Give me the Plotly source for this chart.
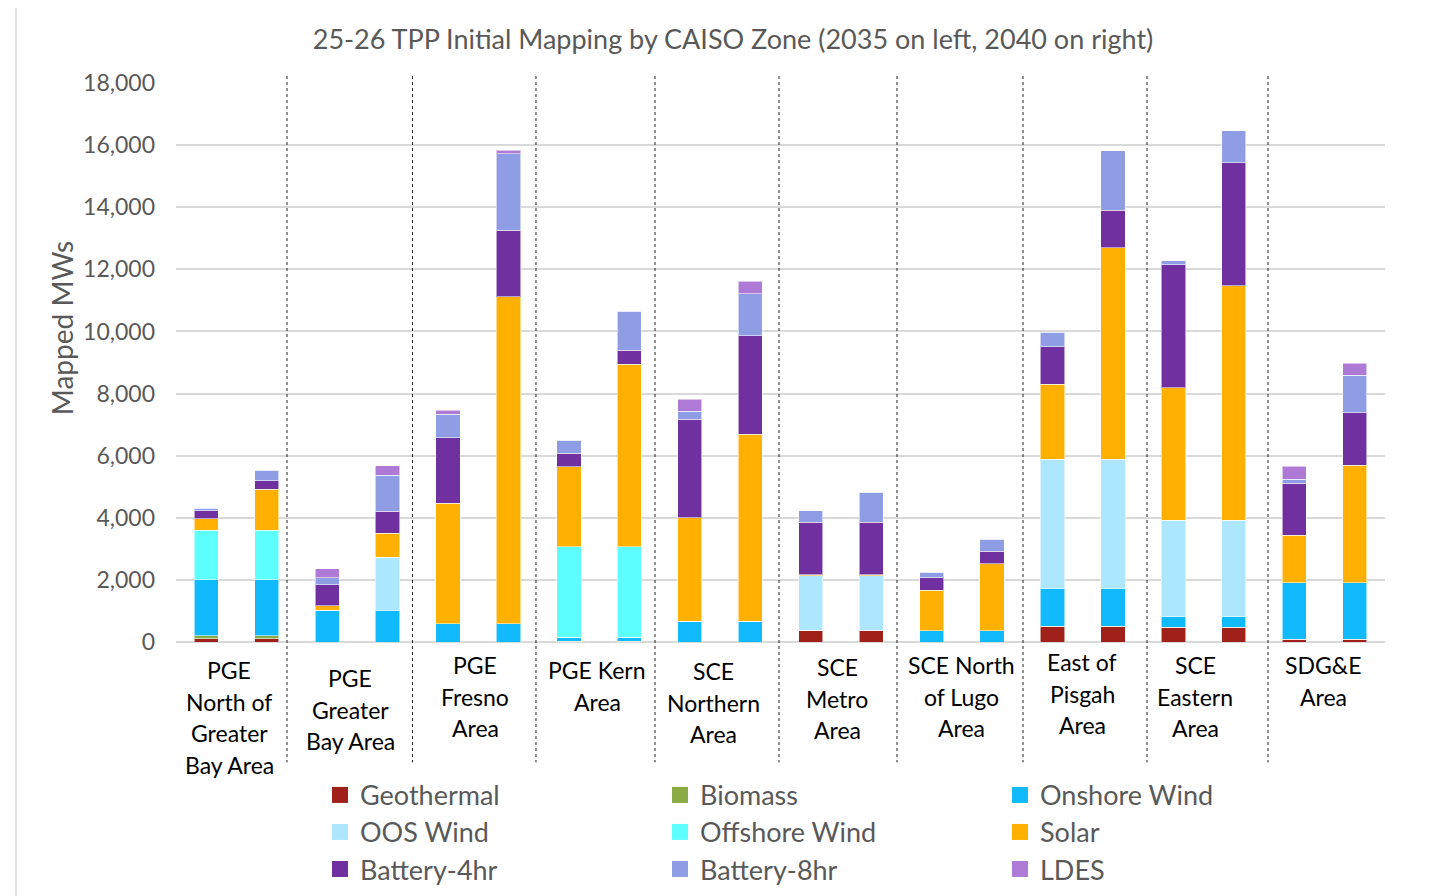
import plotly.graph_objects as go

# ---------------- data ----------------
zones = [
    "PGE<br>North of<br>Greater<br>Bay Area",
    "PGE<br>Greater<br>Bay Area",
    "PGE<br>Fresno<br>Area",
    "PGE Kern<br>Area",
    "SCE<br>Northern<br>Area",
    "SCE<br>Metro<br>Area",
    "SCE North<br>of Lugo<br>Area",
    "East of<br>Pisgah<br>Area",
    "SCE<br>Eastern<br>Area",
    "SDG&E<br>Area",
]
years = ["2035", "2040"]

# values per bar: zone1-2035, zone1-2040, zone2-2035, ...
geothermal = [100, 100, 0, 0, 0, 0, 0, 0, 0, 0, 380, 380, 0, 0, 500, 500, 480, 480, 90, 90]
biomass = [100, 100, 0, 0, 0, 0, 20, 20, 0, 0, 0, 0, 0, 0, 0, 0, 0, 0, 0, 0]
onshore_wind = [1800, 1800, 1020, 1020, 580, 580, 130, 130, 670, 670, 0, 0, 370, 370, 1230, 1230, 340, 340, 1810, 1810]
oos_wind = [0, 0, 0, 1710, 0, 0, 0, 0, 0, 0, 1750, 1750, 0, 0, 4160, 4160, 3100, 3100, 0, 0]
offshore_wind = [1600, 1600, 0, 0, 0, 0, 2925, 2925, 0, 0, 0, 0, 0, 0, 0, 0, 0, 0, 0, 0]
solar = [370, 1325, 140, 775, 3880, 10540, 2570, 5870, 3330, 6020, 40, 40, 1300, 2150, 2410, 6810, 4270, 7550, 1530, 3785]
battery_4hr = [260, 260, 690, 700, 2120, 2140, 440, 450, 3180, 3170, 1690, 1690, 400, 410, 1200, 1200, 3955, 3970, 1680, 1700]
battery_8hr = [75, 345, 215, 1160, 750, 2460, 410, 1250, 250, 1355, 365, 970, 170, 385, 475, 1925, 130, 1030, 130, 1205]
ldes = [0, 0, 300, 310, 140, 120, 0, 0, 390, 400, 0, 0, 0, 0, 0, 0, 0, 0, 420, 390]

series_names = ["Geothermal", "Biomass", "Onshore Wind", "OOS Wind", "Offshore Wind",
                "Solar", "Battery-4hr", "Battery-8hr", "LDES"]
series_values = [geothermal, biomass, onshore_wind, oos_wind, offshore_wind,
                 solar, battery_4hr, battery_8hr, ldes]

y_ticks = [0, 2000, 4000, 6000, 8000, 10000, 12000, 14000, 16000, 18000]

# ---------------- style ----------------
colors = ["#A0201A", "#8AAB45", "#10BAFD", "#ADE7FF", "#5EFFFF",
          "#FFB000", "#7030A0", "#8F9EE4", "#AE7AD6"]
FONT = "Lato"
GRAY = "#595959"

OFF = 8                      # page body margin
W, H = 1429 - OFF, 896 - OFF
L, R, T = 176 - OFF, 44, 83 - OFF
PLOT_BOTTOM_PAGE = 641.7
B = H - (PLOT_BOTTOM_PAGE - OFF)
plot_h = H - T - B
plot_w = W - L - R

def py(page_y):  # page pixel y -> paper y
    return (PLOT_BOTTOM_PAGE - page_y) / plot_h

def pxx(page_x):  # page pixel x -> paper x
    return (page_x - OFF - L) / plot_w

n_bars = len(zones) * len(years)
x_pos = list(range(n_bars))

fig = go.Figure()
for name, vals, col in zip(series_names, series_values, colors):
    fig.add_trace(go.Bar(
        x=x_pos, y=vals, name=name, showlegend=False,
        marker=dict(color=col, line=dict(color="rgba(255,255,255,0.55)", width=1)),
        width=0.4,
        hovertemplate="%{y:,}<extra>" + name + "</extra>",
    ))

# legend entries (square swatches)
legend_ids = ["legend", "legend", "legend", "legend2", "legend2", "legend2",
              "legend3", "legend3", "legend3"]
for name, col, lg in zip(series_names, colors, legend_ids):
    fig.add_trace(go.Scatter(
        x=[None], y=[None], mode="markers", name=name, legend=lg,
        marker=dict(symbol="square", size=16, color=col),
        hoverinfo="skip",
    ))

# group divider lines (x in bar-index units)
dividers = [1.336, 3.412, 5.455, 7.424, 9.475, 11.427, 13.512, 15.563, 17.565]
for d in dividers:
    fig.add_shape(type="line", xref="x", yref="paper", x0=d, x1=d,
                  y0=py(76), y1=py(762),
                  line=dict(color="#222222", width=1, dash="dot"), layer="above")

# chart area border (light gray)
fig.add_shape(type="rect", xref="paper", yref="paper",
              x0=pxx(16), x1=pxx(1445), y0=py(910), y1=py(4),
              line=dict(color="#D9D9D9", width=1.5), layer="below")

# zone labels (each line as its own annotation for spacing control)
label_center_x = [229, 350, 475, 597, 713, 837, 961, 1082, 1195, 1323]
first_line_y = [670, 678, 665, 670, 671, 667, 665, 662, 665, 665]
line_step = 31.5
for i, z in enumerate(zones):
    for j, line in enumerate(z.split("<br>")):
        fig.add_annotation(x=pxx(label_center_x[i]), xref="paper",
                           y=py(first_line_y[i] + j * line_step), yref="paper",
                           text=line, showarrow=False, xanchor="center", yanchor="middle",
                           font=dict(family=FONT, size=23, color="#000000"))

# y-axis title
fig.add_annotation(x=pxx(62), xref="paper", y=py(328), yref="paper",
                   text="Mapped MWs", textangle=-90, showarrow=False,
                   xanchor="center", yanchor="middle",
                   font=dict(family=FONT, size=28, color=GRAY))

legend_common = dict(orientation="h", xanchor="left", yanchor="middle",
                     traceorder="normal",
                     entrywidth=295, entrywidthmode="pixels",
                     font=dict(family=FONT, size=27, color=GRAY),
                     bgcolor="rgba(0,0,0,0)", itemclick=False, itemdoubleclick=False)

fig.update_layout(
    width=W, height=H,
    margin=dict(l=L, r=R, t=T, b=B, autoexpand=False),
    paper_bgcolor="white", plot_bgcolor="white",
    barmode="stack",
    title=dict(text="25-26 TPP Initial Mapping by CAISO Zone (2035 on left, 2040 on right)",
               x=(733 - OFF) / W, xanchor="center", y=1 - (40 - OFF) / H, yanchor="middle",
               font=dict(family=FONT, size=27, color=GRAY)),
    xaxis=dict(range=[-0.5, n_bars - 0.5], showticklabels=False, showgrid=False,
               zeroline=False, showline=False, ticks=""),
    yaxis=dict(range=[0, 18000], tickvals=y_ticks, tickformat=",",
               showgrid=True, gridcolor="#D9D9D9", gridwidth=1.5,
               zeroline=True, zerolinecolor="#D9D9D9", zerolinewidth=1.5,
               showline=False, ticks="", ticklabelstandoff=20,
               tickfont=dict(family=FONT, size=23, color=GRAY)),
    legend=dict(x=pxx(320), y=py(795), **legend_common),
    legend2=dict(x=pxx(320), y=py(832), **legend_common),
    legend3=dict(x=pxx(320), y=py(869), **legend_common),
    showlegend=True,
)

fig.write_html("out.html")
